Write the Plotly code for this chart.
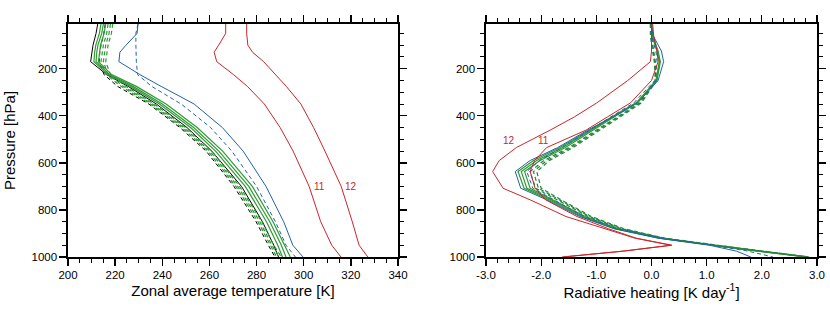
import plotly.graph_objects as go

# ---------------- data ----------------
# Left panel: zonal average temperature [K] vs pressure [hPa]
p_t = [10, 50, 100, 130, 170, 225, 275, 350, 450, 550, 700, 850, 950, 1000]
t_black = [212.6, 211.9, 210.6, 210.1, 209.6, 216.4, 225.5, 237.5, 250.5, 261.0, 273.6, 282.5, 287.3, 289.3]
t_black_dash = [215.8, 215.2, 214.0, 213.5, 213.2, 215.3, 221.0, 234.3, 247.5, 258.6, 270.4, 279.8, 285.0, 287.8]
t_green1 = [214.0, 213.3, 211.8, 211.3, 211.0, 217.0, 226.5, 238.8, 252.0, 262.6, 275.2, 284.2, 289.0, 291.0]
t_green2 = [215.0, 214.3, 212.7, 212.2, 211.9, 217.7, 227.6, 240.0, 253.3, 264.0, 276.7, 285.6, 290.5, 292.5]
t_green3 = [216.0, 215.3, 213.8, 213.3, 212.9, 218.5, 229.0, 241.6, 254.8, 265.6, 278.2, 287.0, 292.0, 294.3]
t_green_d1 = [217.0, 216.4, 215.0, 214.5, 214.0, 216.2, 222.5, 235.0, 248.3, 259.4, 271.2, 280.6, 285.7, 288.5]
t_green_d2 = [218.0, 217.4, 216.0, 215.5, 215.0, 217.0, 223.5, 235.8, 249.1, 260.2, 272.0, 281.4, 286.5, 289.5]
t_green_d3 = [219.0, 218.4, 217.0, 216.5, 216.0, 218.0, 224.5, 236.6, 249.9, 261.0, 272.8, 282.2, 287.3, 290.5]
t_blue = [229.7, 229.3, 224.6, 222.0, 221.6, 230.5, 239.5, 253.5, 265.5, 274.3, 284.0, 291.5, 295.4, 299.7]
t_blue_dash = [229.7, 228.8, 228.8, 228.9, 229.0, 229.5, 235.5, 248.0, 260.5, 269.5, 280.0, 288.0, 292.5, 296.5]
t_red11 = [266.9, 266.9, 263.9, 262.0, 263.1, 270.2, 276.1, 283.3, 290.0, 295.5, 302.3, 307.2, 311.9, 315.8]
t_red12 = [275.8, 275.8, 276.3, 278.3, 283.0, 288.0, 292.6, 298.8, 304.2, 309.0, 315.9, 320.6, 323.5, 327.2]

# Right panel: radiative heating [K/day] vs pressure [hPa]
p_h = [10, 60, 125, 170, 250, 345, 405, 460, 535, 590, 637, 708, 757, 828, 880, 920, 950, 975, 1000]
h_blue = [0.0, 0.03, 0.18, 0.22, 0.12, -0.25, -0.70, -1.15, -1.70, -2.20, -2.47, -2.37, -1.90, -1.30, -0.68, 0.12, 1.05, 1.54, 1.80]
h_blue_dash = [0.0, 0.0, 0.08, 0.10, 0.06, -0.32, -0.74, -1.12, -1.62, -2.03, -2.26, -2.15, -1.78, -1.22, -0.62, 0.18, 1.10, 1.75, 2.20]
h_green1 = [0.0, 0.02, 0.12, 0.16, 0.10, -0.28, -0.72, -1.12, -1.66, -2.14, -2.42, -2.31, -1.86, -1.27, -0.66, 0.14, 1.08, 1.92, 2.80]
h_green2 = [0.0, 0.02, 0.11, 0.15, 0.09, -0.27, -0.70, -1.09, -1.61, -2.08, -2.36, -2.26, -1.82, -1.24, -0.63, 0.16, 1.10, 1.94, 2.82]
h_green3 = [0.0, 0.01, 0.10, 0.14, 0.08, -0.26, -0.68, -1.06, -1.56, -2.02, -2.30, -2.20, -1.78, -1.20, -0.60, 0.18, 1.12, 1.96, 2.83]
h_green_d1 = [-0.02, -0.02, 0.02, 0.05, 0.07, -0.22, -0.62, -1.00, -1.50, -1.95, -2.20, -2.10, -1.72, -1.15, -0.56, 0.20, 1.14, 1.98, 2.84]
h_green_d2 = [-0.02, -0.01, 0.03, 0.06, 0.08, -0.20, -0.60, -0.97, -1.46, -1.90, -2.14, -2.05, -1.68, -1.12, -0.53, 0.22, 1.16, 2.00, 2.85]
h_green_d3 = [-0.01, 0.0, 0.04, 0.07, 0.09, -0.18, -0.57, -0.94, -1.42, -1.85, -2.08, -2.00, -1.64, -1.09, -0.50, 0.24, 1.18, 2.02, 2.86]
h_red11 = [0.02, 0.04, 0.10, 0.12, 0.00, -0.38, -0.80, -1.18, -1.90, -2.12, -2.20, -2.11, -1.92, -1.35, -0.78, -0.28, 0.37, -0.50, -1.60]
h_red12 = [0.0, 0.0, 0.0, -0.02, -0.43, -0.99, -1.40, -1.83, -2.45, -2.76, -2.88, -2.69, -2.20, -1.55, -0.85, -0.30, 0.35, -0.52, -1.62]

x_ticks_t = [200, 220, 240, 260, 280, 300, 320, 340]
x_ticks_h = [-3, -2, -1, 0, 1, 2, 3]
x_ticktext_h = ["-3.0", "-2.0", "-1.0", "0.0", "1.0", "2.0", "3.0"]
y_ticks = [200, 400, 600, 800, 1000]

# ---------------- styles ----------------
BLACK = "#000000"
GREEN = "#2e9a35"
GREEN_D = "#23873a"
BLUE = "#2063a8"
RED = "#c9252c"
DASH = "4px,3px"
FONT = "Liberation Sans, Arial, Helvetica, sans-serif"

fig = go.Figure()

def add(x, y, color, dash=None, width=1.0, xa="x", ya="y"):
    fig.add_trace(go.Scatter(
        x=x, y=y, mode="lines", xaxis=xa, yaxis=ya,
        line=dict(color=color, width=width, dash=dash if dash else "solid"),
        showlegend=False, hoverinfo="skip"))

# left panel
add(t_black, p_t, BLACK, None, 1.0)
add(t_black_dash, p_t, BLACK, DASH, 1.0)
for s in (t_green1, t_green2, t_green3):
    add(s, p_t, GREEN, None, 1.2)
for s in (t_green_d1, t_green_d2, t_green_d3):
    add(s, p_t, GREEN, DASH, 1.2)
add(t_blue, p_t, BLUE, None, 1.0)
add(t_blue_dash, p_t, BLUE, DASH, 1.0)
add(t_red11, p_t, RED, None, 1.0)
add(t_red12, p_t, RED, None, 1.0)

# right panel
for s in (h_green1, h_green2, h_green3):
    add(s, p_h, GREEN, None, 1.2, "x2", "y2")
for s in (h_green_d1, h_green_d2, h_green_d3):
    add(s, p_h, GREEN_D, DASH, 1.2, "x2", "y2")
add(h_blue, p_h, BLUE, None, 1.0, "x2", "y2")
add(h_blue_dash, p_h, BLUE, DASH, 1.0, "x2", "y2")
add(h_red11, p_h, RED, None, 1.0, "x2", "y2")
add(h_red12, p_h, RED, None, 1.0, "x2", "y2")

W, H = 830, 312
ydom = [1 - 257 / H, 1 - 24 / H]

axis_common = dict(
    automargin=False,
    showline=True, linecolor="black", linewidth=1.6, mirror="ticks",
    ticks="outside", ticklen=7, tickwidth=1.3, tickcolor="black",
    showgrid=False, zeroline=False,
    tickfont=dict(family=FONT, size=11.5, color="black"),
    title_font=dict(family=FONT, size=15, color="black"),
)

fig.update_layout(
    template="none",
    width=W, height=H,
    margin=dict(l=0, r=0, t=0, b=0, autoexpand=False),
    paper_bgcolor="white", plot_bgcolor="white",
    xaxis=dict(domain=[68 / W, 398 / W], range=[200, 340], tickvals=x_ticks_t,
               anchor="y", title=dict(text="Zonal average temperature [K]", standoff=5),
               minor=dict(ticks="outside", ticklen=4, dtick=5, tickcolor="black", tickwidth=1),
               **axis_common),
    yaxis=dict(domain=ydom, range=[1000, 10], tickvals=y_ticks, anchor="x",
               title=dict(text="Pressure [hPa]", standoff=12),
               minor=dict(ticks="outside", ticklen=4, dtick=50, tick0=0, tickcolor="black", tickwidth=1),
               **axis_common),
    xaxis2=dict(domain=[486 / W, 817 / W], range=[-3, 3], tickvals=x_ticks_h, ticktext=x_ticktext_h,
                anchor="y2", title=dict(text="Radiative heating [K day<sup>-1</sup>]", standoff=5),
                minor=dict(ticks="outside", ticklen=4, dtick=0.2, tick0=0, tickcolor="black", tickwidth=1),
                **axis_common),
    yaxis2=dict(domain=ydom, range=[1000, 10], tickvals=y_ticks, anchor="x2",
                minor=dict(ticks="outside", ticklen=4, dtick=50, tick0=0, tickcolor="black", tickwidth=1),
                **axis_common),
)

labels = [
    dict(x=306.5, y=702, text="11", xref="x", yref="y"),
    dict(x=320.0, y=702, text="12", xref="x", yref="y"),
    dict(x=-2.58, y=506, text="12", xref="x2", yref="y2"),
    dict(x=-1.95, y=506, text="11", xref="x2", yref="y2"),
]
for lb in labels:
    fig.add_annotation(showarrow=False, font=dict(family=FONT, size=10, color=RED), **lb)

fig.write_html(
    "out.html",
    config={"displayModeBar": False, "staticPlot": True},
    post_script="document.body.style.margin='0';document.body.style.padding='0';",
)
